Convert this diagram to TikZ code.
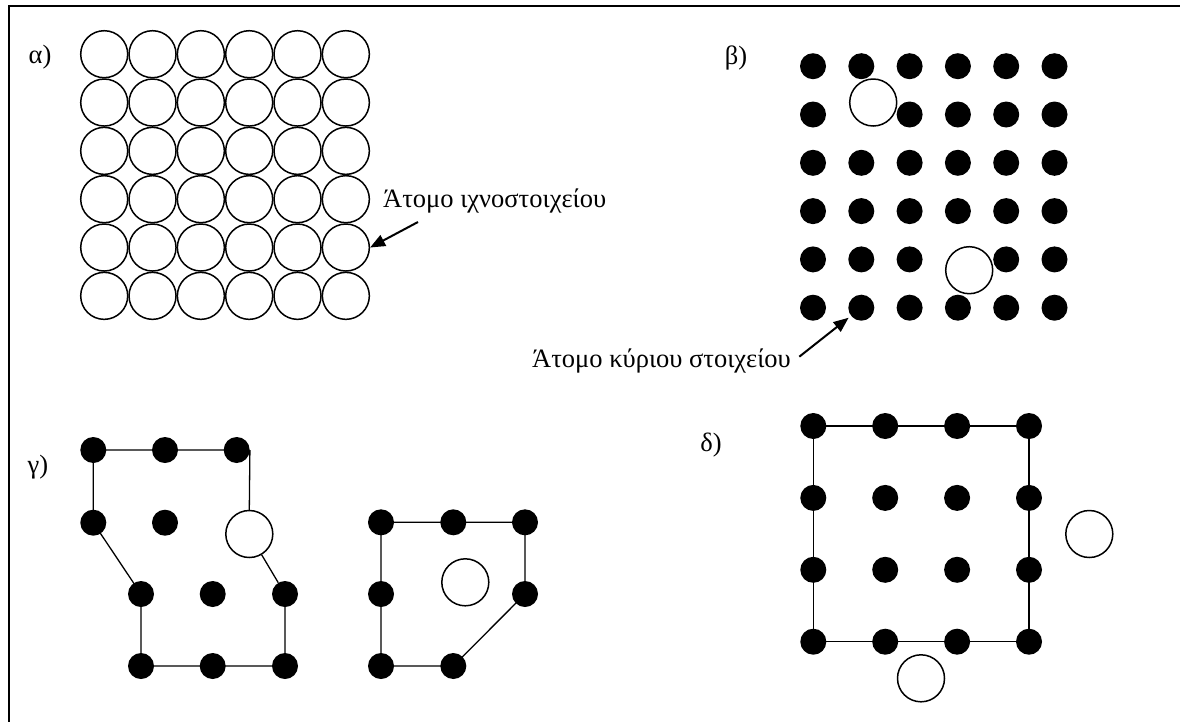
\documentclass[tikz,border=0pt]{standalone}
\usepackage{fontspec}
\setmainfont{Liberation Serif}
\usetikzlibrary{arrows.meta}

\begin{document}
\begin{tikzpicture}[x=1pt, y=-1pt,
	atom/.style={circle, draw, fill=white, line width=1.5pt, minimum size=47pt, inner sep=0pt},
	dot/.style={circle, fill, minimum size=26pt, inner sep=0pt},
	bond/.style={line width=1.3pt},
	ptr/.style={line width=2pt, -{Triangle[length=15pt, width=12pt]}},
	tag/.style={font=\fontsize{26.5}{30}\selectfont, inner sep=0pt}]
	\useasboundingbox (0, 0) rectangle (1180, 721);
	\clip (0, 0) rectangle (1180, 721);
	% Frame:
	\draw[line width=2pt] (9, 740) -- (9, 6) -- (1200, 6);

	% a) trace atoms only:
	\node[tag] (la) at (40, 57){α)};
	\foreach \r in {1,...,6}
		\foreach \c in {1,...,6}
			\node[atom] (a\r\c) at ({104.2+48.33*(\c-1)}, {54.2+48.33*(\r-1)}){};
	\node[tag, anchor=base west] (lblA) at (383, 207){Άτομο ιχνοστοιχείου};
	\coordinate (tailA) at (418, 222);
	\draw[ptr] (tailA) -- (a56.east);

	% b) host lattice with two trace atoms:
	\node[tag] (lb) at (736, 58){β)};
	\node[atom] (bv1) at (873.2, 102.5){};
	\node[atom] (bv2) at (969.2, 270.2){};
	\foreach \r in {1,...,6}
		\foreach \c in {1,...,6}{
			\ifnum\r\c=22 \else\ifnum\r\c=54 \else
			\node[dot] (b\r\c) at ({813+48.3*(\c-1)}, {66.2+48.3*(\r-1)}){};
			\fi\fi
		}
	\node[tag, anchor=base west] (lblB) at (532, 367){Άτομο κύριου στοιχείου};
	\coordinate (tailB) at (799.3, 356.7);
	\draw[ptr, shorten >=3pt] (tailB) -- (b62);

	% c) grains:
	\node[tag] (lg) at (38, 467){γ)};
	\node[dot] (g11) at (93.3, 450){};
	\node[dot] (g12) at (165, 450){};
	\node[dot] (g13) at (236.7, 450){};
	\node[dot] (g21) at (93.3, 522.7){};
	\node[dot] (g22) at (165, 522.7){};
	\node[atom] (gv) at (249.3, 534){};
	\node[dot] (g31) at (141, 594){};
	\node[dot] (g32) at (212.7, 594){};
	\node[dot] (g33) at (285, 594){};
	\node[dot] (g41) at (141, 666){};
	\node[dot] (g42) at (212.7, 666){};
	\node[dot] (g43) at (285, 666){};
	\draw[bond] (g13.east) -- (gv.north);
	\draw[bond] (gv) -- (g33);
	\draw[bond] (g13.center) -- (g11.center) -- (g21.center) -- (g31.center) -- (g41.center) -- (g43.center) -- (g33.center);

	\node[dot] (h11) at (381, 522.3){};
	\node[dot] (h12) at (453.3, 522.3){};
	\node[dot] (h13) at (525, 522.3){};
	\node[dot] (h21) at (381, 594){};
	\node[dot] (h23) at (525, 594){};
	\node[dot] (h31) at (381, 666){};
	\node[dot] (h32) at (453.3, 666){};
	\node[atom] (hv) at (465.3, 582.3){};
	\draw[bond] (h11.center) -- (h13.center) -- (h23.center) -- (h32.center) -- (h31.center) -- cycle;

	% d) trace atoms outside the grain:
	\node[tag] (ld) at (711, 445){δ)};
	\foreach \r in {1,...,4}
		\foreach \c in {1,...,4}
			\node[dot] (d\r\c) at ({813.3+71.9*(\c-1)}, {426+71.9*(\r-1)}){};
	\draw[bond] (d11.center) -- (d14.center) -- (d44.center) -- (d41.center) -- cycle;
	\node[atom] (dv1) at (1089.3, 534){};
	\node[atom] (dv2) at (921, 678.3){};
\end{tikzpicture}
\end{document}
